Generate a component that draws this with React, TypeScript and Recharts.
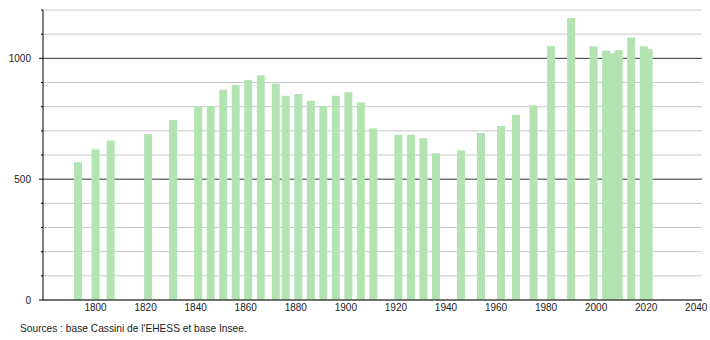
import React from "react";
import { BarChart, Bar, XAxis, YAxis, CartesianGrid } from "recharts";

const years = [
  1793, 1800, 1806, 1821, 1831, 1841, 1846, 1851, 1856, 1861, 1866, 1872, 1876,
  1881, 1886, 1891, 1896, 1901, 1906, 1911, 1921, 1926, 1931, 1936, 1946, 1954,
  1962, 1968, 1975, 1982, 1990, 1999, 2004, 2007, 2009, 2014, 2019, 2021,
];
const population = [
  570, 624, 660, 687, 745, 800, 800, 870, 890, 911, 930, 895, 845, 852, 824,
  800, 845, 860, 818, 710, 684, 684, 670, 607, 619, 691, 720, 766, 806, 1051,
  1167, 1050, 1032, 1021, 1034, 1086, 1050, 1038,
];
const xTicks = [1800, 1820, 1840, 1860, 1880, 1900, 1920, 1940, 1960, 1980, 2000, 2020, 2040];
const yTicks = [0, 100, 200, 300, 400, 500, 600, 700, 800, 900, 1000, 1100, 1200];
const yLabels = [0, 500, 1000];

const FONT = '"Liberation Sans", Arial, sans-serif';
const BAR = "#b2e4b2";
const TEXT = "#222";
const BAR_W = 8;

const data = years.map((year, i) => ({ year, pop: population[i] }));

// y ticks: short marks every 100, longer ones with a label at 0 / 500 / 1000
function YTick(props: any) {
  const { x, y, payload } = props;
  const major = yLabels.includes(payload.value);
  const axisX = x + 12;
  return (
    <g>
      <line x1={axisX - (major ? 4 : 2)} x2={axisX} y1={y} y2={y} stroke="#000" />
      {major && (
        <text x={x} y={y} dy="0.36em" textAnchor="end" fontSize={10} fill={TEXT} fontFamily={FONT}>
          {payload.value}
        </text>
      )}
    </g>
  );
}

// grid: grey every 100, dark at 500 and 1000
function gridLine(props: any) {
  const { x1, x2, y1, y2, index } = props;
  const v = yTicks[index];
  const dark = v === 500 || v === 1000;
  return <line key={`g-${index}`} x1={x1} x2={x2} y1={y1} y2={y2} stroke={dark ? "#333" : "#c8c8c8"} strokeWidth={1} />;
}

// census years are close together, so the band is narrow: keep bars 8px wide around their year
function WideBar(props: any) {
  const { x, y, width, height, fill } = props;
  if (height == null || height <= 0) return null;
  const cx = x + width / 2;
  return <rect x={cx - BAR_W / 2} y={y} width={BAR_W} height={height} fill={fill} />;
}

export default function App() {
  return (
    <div style={{ position: "absolute", left: 0, top: 0, width: 710, height: 340, background: "#fff", fontFamily: FONT }}>
      <BarChart width={710} height={340} data={data} margin={{ top: 10, right: 8, bottom: 20, left: 0 }}>
        <CartesianGrid vertical={false} horizontal={gridLine} />
        <XAxis
          dataKey="year"
          type="number"
          domain={[1779, 2042.3]}
          allowDataOverflow
          ticks={xTicks}
          tickLine={false}
          tickSize={0}
          tickMargin={4}
          axisLine={{ stroke: "#000" }}
          tick={{ fontSize: 10, fill: TEXT, fontFamily: FONT }}
          height={20}
        />
        <YAxis
          type="number"
          domain={[0, 1200]}
          ticks={yTicks}
          interval={0}
          width={43}
          tickLine={false}
          tickSize={0}
          tickMargin={12}
          axisLine={{ stroke: "#000" }}
          tick={<YTick />}
        />
        <Bar dataKey="pop" fill={BAR} shape={<WideBar />} isAnimationActive={false} />
      </BarChart>
      <div style={{ position: "absolute", left: 20, top: 323, fontSize: 10.2, color: TEXT, whiteSpace: "nowrap" }}>
        Sources : base Cassini de l'EHESS et base Insee.
      </div>
    </div>
  );
}
